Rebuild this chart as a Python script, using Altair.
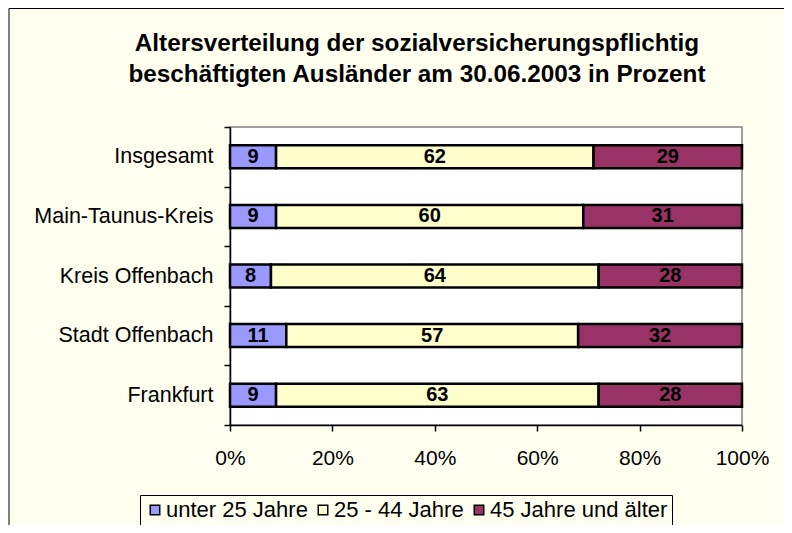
import altair as alt
import pandas as pd

regions = ["Insgesamt", "Main-Taunus-Kreis", "Kreis Offenbach", "Stadt Offenbach", "Frankfurt"]
groups = ["unter 25 Jahre", "25 - 44 Jahre", "45 Jahre und älter"]
unter25 = [9, 9, 8, 11, 9]
mitte = [62, 60, 64, 57, 63]
ueber45 = [29, 31, 28, 32, 28]
colors = ["#9999FF", "#FFFFCC", "#993366"]
x_ticks = [0, 20, 40, 60, 80, 100]
title_lines = ["Altersverteilung der sozialversicherungspflichtig",
               "beschäftigten Ausländer am 30.06.2003 in Prozent"]

rows = []
for i, r in enumerate(regions):
    for j, vals in enumerate([unter25, mitte, ueber45]):
        rows.append({"Region": r, "Gruppe": groups[j], "order": j, "Wert": vals[i]})
df = pd.DataFrame(rows)

FONT = "Liberation Sans"

base = alt.Chart(df).transform_stack(
    stack="Wert", as_=["x0", "x1"], groupby=["Region"],
    sort=[alt.SortField("order", order="ascending")]
).transform_calculate(xm="(datum.x0 + datum.x1) / 2")

yenc = alt.Y(
    "Region:N", sort=regions,
    scale=alt.Scale(paddingInner=0, paddingOuter=0),
    axis=alt.Axis(title=None, tickBand="extent", tickSize=6, tickColor="black",
                  tickWidth=1.5, domainColor="black", domainWidth=1.5,
                  labelFont=FONT, labelFontSize=21.5, labelColor="black",
                  labelPadding=11, labelLimit=300),
)

bars = base.mark_bar(size=23, stroke="black", strokeWidth=2.5).encode(
    x=alt.X("x0:Q", scale=alt.Scale(domain=[0, 100], nice=False),
            axis=alt.Axis(title=None, values=x_ticks, labelExpr="datum.value + '%'",
                          grid=False, tickSize=6, tickColor="black", tickWidth=1.5,
                          domainColor="black", domainWidth=1.5,
                          labelFont=FONT, labelFontSize=21, labelColor="black",
                          labelPadding=16, labelFlush=False, labelOverlap=False)),
    x2="x1:Q",
    y=yenc,
    color=alt.Color("Gruppe:N", sort=groups,
                    scale=alt.Scale(domain=groups, range=colors),
                    legend=alt.Legend(
                        title=None, orient="none", legendX=-90, legendY=368,
                        direction="horizontal", columns=3,
                        symbolType="square", symbolSize=90,
                        symbolStrokeColor="black", symbolStrokeWidth=1.5,
                        labelFont=FONT, labelFontSize=22, labelColor="black",
                        labelLimit=400, labelOffset=0, columnPadding=4,
                        padding=4, strokeColor="black")),
    order=alt.Order("order:Q"),
)

labels = base.mark_text(font=FONT, fontSize=20, fontWeight="bold", color="black",
                        baseline="middle", align="center").encode(
    x="xm:Q",
    y=alt.Y("Region:N", sort=regions),
    text="Wert:Q",
)

frame_df = pd.DataFrame({"k": [0]})
frame_top = alt.Chart(frame_df).mark_rule(color="black", strokeWidth=1).encode(
    x=alt.value(-221), x2=alt.value(560), y=alt.value(-118.5))
frame_left = alt.Chart(frame_df).mark_rule(color="black", strokeWidth=1).encode(
    x=alt.value(-221), y=alt.value(-118.5), y2=alt.value(410))

chart = alt.layer(bars, labels, frame_top, frame_left).properties(
    width=512, height=298,
    autosize=alt.AutoSizeParams(type="none"),
    padding={"left": 222, "top": 119, "right": 42, "bottom": 100},
    background="#FFFFF0",
    title=alt.TitleParams(text=title_lines, font=FONT, fontSize=24.3, fontWeight="bold",
                          color="black", anchor="middle", dx=-69, offset=-79,
                          lineHeight=31),
).configure_view(fill="white", stroke="#808080", strokeWidth=1.5)

chart.save("out.html", embed_options={"renderer": "svg", "actions": False})
